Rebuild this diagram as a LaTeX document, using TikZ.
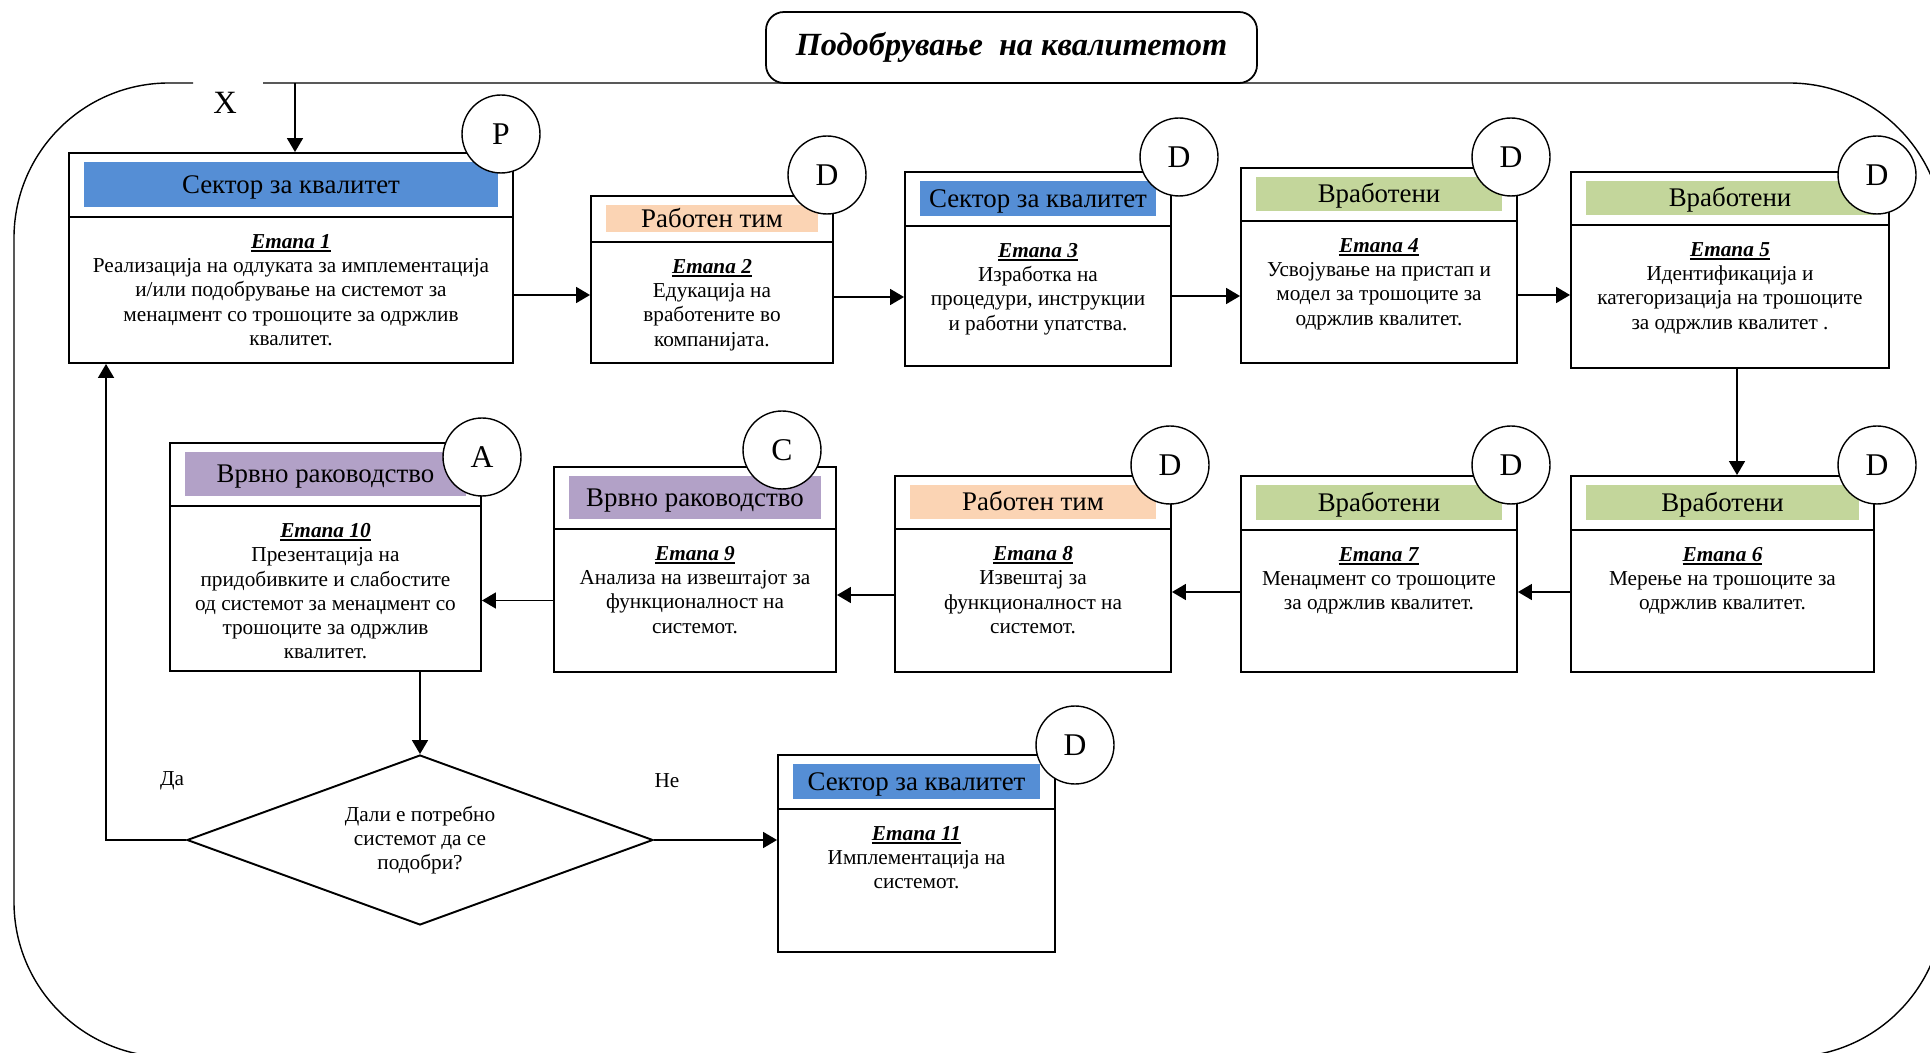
\documentclass[tikz,border=0pt]{standalone}
\usepackage{fontspec}
\setmainfont{Liberation Serif}
\usetikzlibrary{arrows.meta, fit, positioning, shapes.geometric}

\definecolor{plava}{HTML}{558ED5}
\definecolor{praska}{HTML}{FBD4B4}
\definecolor{zelena}{HTML}{C3D69B}
\definecolor{vinska}{HTML}{B2A1C7}

% podvlecen naslov na etapa
\newcommand{\broj}[1]{\sbox0{\textbf{\textit{Етапа #1}}}\rlap{\rule[-1.9pt]{\wd0}{0.9pt}}\usebox0}
% #1 ime, #2..#6 levo/gore/desno/linija/dolu, #7 boja, #8 glava, #9 opis
\newcommand{\etapa}[9]{%
  \node[glava, fit={(#2,#3) (#4,#5)}] (#1h) {};
  \node[glava, fit={(#2,#5) (#4,#6)}] (#1) {};
  \node[pojas, fill=#7, fit={([shift={(16,10)}]#1h.north west) ([shift={(-16,-11)}]#1h.south east)}] (#1t) {};
  \node[glavtekst] (#1g) at (#1t.center) {#8};
  \node[opis, below=3.6mm of #1.north] (#1o) {#9};
}

\begin{document}
\begin{tikzpicture}[
    x = 0.02cm, y = -0.02cm,
    glava/.style = {rectangle, draw, line width=1.1pt, inner sep=0pt},
    pojas/.style = {rectangle, inner sep=0pt},
    glavtekst/.style = {inner sep=0pt, text height=10pt, text depth=0pt, font=\fontsize{15.3}{18}\selectfont},
    opis/.style = {align=center, inner sep=0pt},
    krug/.style = {circle, draw, fill=white, line width=0.8pt, minimum size=15.6mm, inner sep=0pt, font=\fontsize{18}{20}\selectfont},
    romb/.style = {diamond, draw, line width=1.1pt, aspect=2.7, minimum width=93.2mm, minimum height=34mm, inner sep=0pt, align=center},
    naslov/.style = {rectangle, draw, fill=white, rounded corners=3.6mm, line width=1pt, inner sep=0pt},
    strelka/.style = {line width=1pt, -{Triangle[length=2.8mm, width=3.2mm]}},
    font=\fontsize{12.1}{13.8}\selectfont
    ]
  \useasboundingbox (0,0) rectangle (1930,1053);
  \clip (0,0) rectangle (1930,1053);

  % ramka okolu celiot ciklus, so procep kaj X
  \draw[line width=0.8pt, rounded corners=31mm] (193,83) -- (14,83) -- (14,1057) -- (1944,1057) -- (1944,83) -- (263,83);
  \node[naslov, fit={(766,12) (1257,83)}] (naslov) {};
  \node[inner sep=0pt, text height=12pt, text depth=0pt, font=\fontsize{18.4}{22}\selectfont\bfseries\itshape]
    (naslovt) at ([yshift=0.5mm]naslov.center) {Подобрување~ на квалитетот};
  \node[font=\fontsize{18.5}{20}\selectfont] (X) at (225,103) {X};
  \coordinate (ulaz) at (295,83);

  \etapa{e1}{69}{153}{513}{217}{363}{plava}{Сектор за квалитет}{\broj{1}\\ Реализација на одлуката за имплементација\\ и/или подобрување на системот за\\ менаџмент со трошоците за одржлив\\ квалитет.}
  \etapa{e2}{591}{196}{833}{242}{363}{praska}{Работен тим}{\broj{2}\\ Едукација на\\ вработените во\\ компанијата.}
  \etapa{e3}{905}{172}{1171}{226}{366}{plava}{Сектор за квалитет}{\broj{3}\\ Изработка на\\ процедури, инструкции\\ и работни упатства.}
  \etapa{e4}{1241}{168}{1517}{221}{363}{zelena}{Вработени}{\broj{4}\\ Усвојување на пристап и\\ модел за трошоците за\\ одржлив квалитет.}
  \etapa{e5}{1571}{172}{1889}{225}{368}{zelena}{Вработени}{\broj{5}\\ Идентификација и\\ категоризација на трошоците\\ за одржлив квалитет .}

  \etapa{e6}{1571}{476}{1874}{530}{672}{zelena}{Вработени}{\broj{6}\\ Мерење на трошоците за\\ одржлив квалитет.}
  \etapa{e7}{1241}{476}{1517}{530}{672}{zelena}{Вработени}{\broj{7}\\ Менаџмент со трошоците\\ за одржлив квалитет.}
  \etapa{e8}{895}{476}{1171}{529}{672}{praska}{Работен тим}{\broj{8}\\ Извештај за\\ функционалност на\\ системот.}
  \etapa{e9}{554}{467}{836}{529}{672}{vinska}{Врвно раководство}{\broj{9}\\ Анализа на извештајот за\\ функционалност на\\ системот.}
  \etapa{e10}{170}{443}{481}{506}{671}{vinska}{Врвно раководство}{\broj{10}\\ Презентација на\\ придобивките и слабостите\\ од системот за менаџмент со\\ трошоците за одржлив\\ квалитет.}

  \node[romb] (odluka) at (420,840) {Дали е потребно\\ системот да се\\ подобри?};
  \node (da) at (172,781) {Да};
  \node (ne) at (667,781) {Не};
  \etapa{e11}{778}{755}{1055}{809}{952}{plava}{Сектор за квалитет}{\broj{11}\\ Имплементација на\\ системот.}

  \node[krug] (p1) at (501,134) {P};
  \node[krug] (d2) at (827,175) {D};
  \node[krug] (d3) at (1179,157) {D};
  \node[krug] (d4) at (1511,157) {D};
  \node[krug] (d5) at (1877,175) {D};
  \node[krug] (d6) at (1877,465) {D};
  \node[krug] (d7) at (1511,465) {D};
  \node[krug] (d8) at (1170,465) {D};
  \node[krug] (c9) at (782,450) {C};
  \node[krug] (a10) at (482,457) {A};
  \node[krug] (d11) at (1075,745) {D};

  \draw[strelka] (ulaz) -- (ulaz |- e1h.north);
  \draw[strelka] ([yshift=-1mm]e1.east) -- ([yshift=-1mm]e1.east -| e2.west);
  \draw[strelka] ([yshift=1.1mm]e2.east) -- ([yshift=1.1mm]e2.east -| e3.west);
  \draw[strelka] (e3) -- (e3 -| e4.west);
  \draw[strelka] ([yshift=-0.6mm]e4.east) -- ([yshift=-0.6mm]e4.east -| e5.west);
  \draw[strelka] ([xshift=1.4mm]e5.south) -- ([xshift=1.4mm]e5.south |- e6h.north);
  \draw[strelka] ([yshift=1.8mm]e6.west) -- ([yshift=1.8mm]e6.west -| e7.east);
  \draw[strelka] ([yshift=1.8mm]e7.west) -- ([yshift=1.8mm]e7.west -| e8.east);
  \draw[strelka] ([yshift=1.1mm]e8.west) -- ([yshift=1.1mm]e8.west -| e9.east);
  \draw[strelka] (e9) -- (e9 -| e10.east);
  \draw[strelka] (e10.south -| odluka.north) -- (odluka.north);
  \draw[strelka] (odluka.east) -- (odluka.east -| e11.west);
  \draw[strelka] (odluka.west) -| ([xshift=7.6mm]e1.south west);
\end{tikzpicture}
\end{document}
